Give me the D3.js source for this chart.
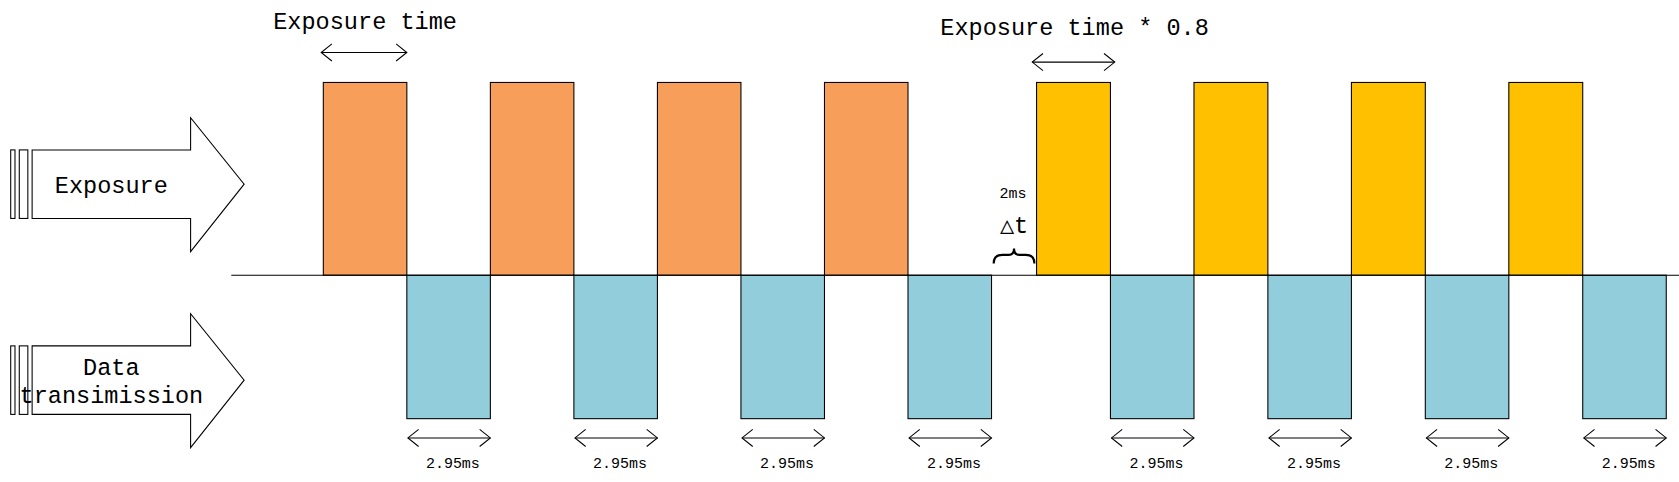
<!DOCTYPE html><html><head><meta charset="utf-8"><script src="https://d3js.org/d3.v7.min.js"></script>
<style>body{margin:0;background:#fff}</style></head><body><svg id="c" width="1679" height="482"></svg><script>
const orangeStarts=[0,5.9,11.8,17.7], orangeWidth=2.95;
const blueStarts1=[2.95,8.85,14.75,20.65], blueWidth=2.95;
const yellowStarts=[25.19,30.75,36.31,41.87], yellowWidth=2.61;
const blueStarts2=[27.8,33.36,38.92,44.48];
const transferLabels=["2.95ms","2.95ms","2.95ms","2.95ms","2.95ms","2.95ms","2.95ms","2.95ms"];
const gapLabel="2ms";
const S=1679/1568;
const svg=d3.select("#c"), g=svg.append("g").attr("transform",`scale(${S})`);
const x=d3.scaleLinear().domain([-3.25,47.88]).range([216,1568]);
const y=d3.scaleLinear().domain([-1,1]).range([391,77]).clamp(false);
const yTop=77,yBase=257,yBot=391;
const font="'Liberation Mono', monospace";
function bars(starts,w,y0,y1,fill){g.selectAll(null).data(starts).enter().append("rect")
 .attr("x",d=>x(d)).attr("width",d=>x(d+w)-x(d)).attr("y",y0).attr("height",y1-y0)
 .attr("fill",fill).attr("stroke","#000").attr("stroke-width",1);}
bars(orangeStarts,orangeWidth,yTop,yBase,"#F79F5A");
bars(yellowStarts,yellowWidth,yTop,yBase,"#FFC000");
bars(blueStarts1,blueWidth,yBase,yBot,"#92CDDC");
bars(blueStarts2,blueWidth,yBase,yBot,"#92CDDC");
g.append("line").attr("x1",x(-3.25)).attr("x2",x(47.88)).attr("y1",yBase).attr("y2",yBase).attr("stroke","#000");
function dbl(x1,x2,yy){g.append("line").attr("x1",x1).attr("x2",x2).attr("y1",yy).attr("y2",yy).attr("stroke","#000");
 g.append("path").attr("d",`M${x1+10},${yy-8}L${x1},${yy}L${x1+10},${yy+8}M${x2-10},${yy-8}L${x2},${yy}L${x2-10},${yy+8}`).attr("fill","none").attr("stroke","#000");}
function txt(t,xx,yy,s){g.append("text").attr("x",xx).attr("y",yy).attr("text-anchor","middle").attr("font-family",font).attr("font-size",s).text(t);}
dbl(x(0)-2,x(orangeWidth),49); txt("Exposure time",x(orangeWidth/2),27,22);
dbl(x(yellowStarts[0])-4,x(yellowStarts[0]+yellowWidth)+4,58); txt("Exposure time * 0.8",x(yellowStarts[0]+yellowWidth/2)+1,33,22);
[...blueStarts1,...blueStarts2].forEach((s,i)=>{dbl(x(s)+1,x(s+blueWidth),409);txt(transferLabels[i],x(s+blueWidth/2)+4,437,14);});
// brace
const bx1=x(blueStarts1[3]+blueWidth)+2,bx2=x(yellowStarts[0])-2,bm=(bx1+bx2)/2;
g.append("path").attr("d",`M${bx1},246Q${bx1},238 ${bx1+8},238L${bm-5},238Q${bm},238 ${bm},232Q${bm},238 ${bm+5},238L${bx2-8},238Q${bx2},238 ${bx2},246`).attr("fill","none").attr("stroke","#000").attr("stroke-width",2);
txt(gapLabel,bm-1,185,14); txt("△t",bm,218,22);
function bigArrow(cy,lines){const t=cy-32,b=cy+32;
 g.append("rect").attr("x",10).attr("y",t).attr("width",4).attr("height",64).attr("fill","none").attr("stroke","#000");
 g.append("rect").attr("x",18).attr("y",t).attr("width",8).attr("height",64).attr("fill","none").attr("stroke","#000");
 g.append("path").attr("d",`M30,${t}L178,${t}L178,${cy-62}L228,${cy}L178,${cy+63}L178,${b}L30,${b}Z`).attr("fill","#fff").attr("stroke","#000");
 lines.forEach((l,i)=>txt(l,104,cy+8+(i-(lines.length-1)/2)*26,22));}
bigArrow(172,["Exposure"]); bigArrow(355,["Data","transimission"]);
</script></body></html>
